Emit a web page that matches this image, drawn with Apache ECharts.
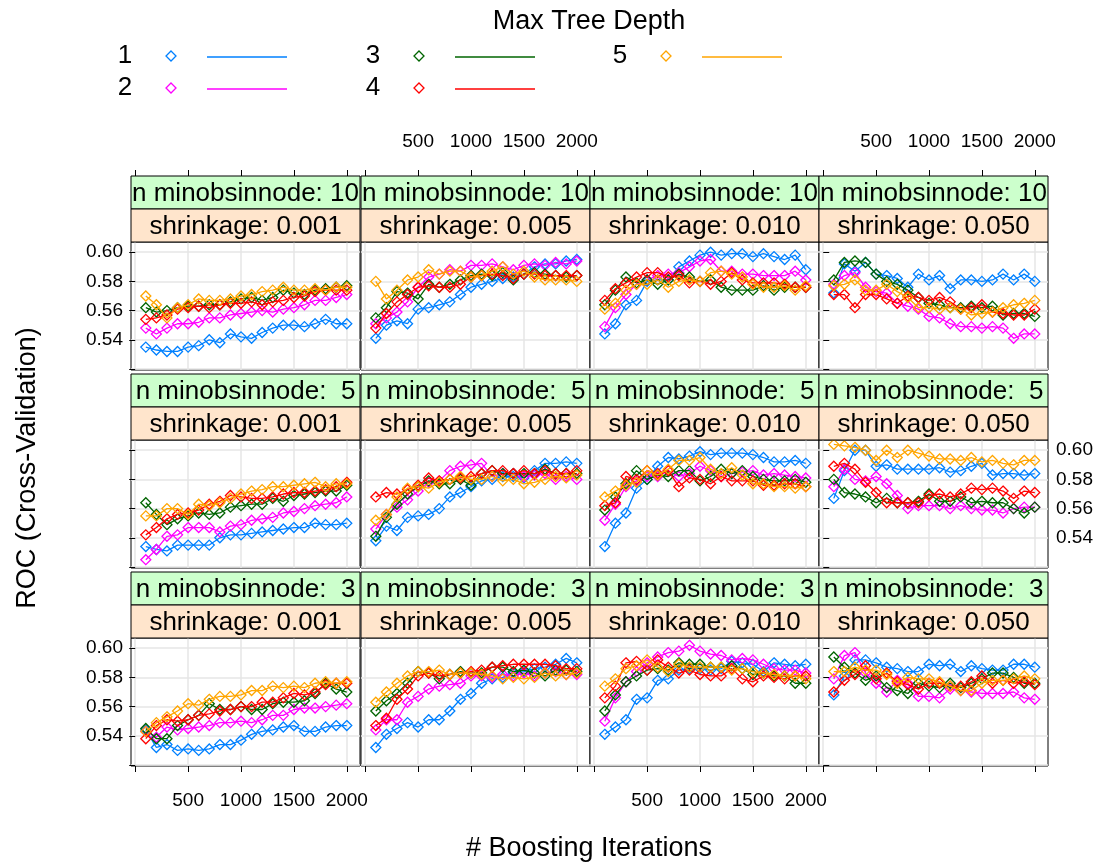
<!DOCTYPE html>
<html><head><meta charset="utf-8">
<script src="https://cdn.jsdelivr.net/npm/echarts@6/dist/echarts.min.js"></script>
<style>html,body{margin:0;padding:0;background:#fff}#c{width:1120px;height:865px}</style>
</head><body><div id="c"></div>
<script>
// ---------------- data ----------------
const iterations = [100,200,300,400,500,600,700,800,900,1000,1100,1200,1300,1400,1500,1600,1700,1800,1900,2000];
const depthLabels = ['1','2','3','4','5'];
const depthColors = ['#0080ff','#ff00ff','#006400','#ff0000','#ffa500'];
const shrinkageLabels = ['shrinkage: 0.001','shrinkage: 0.005','shrinkage: 0.010','shrinkage: 0.050'];
const minobsLabels = ['n minobsinnode: 10','n minobsinnode:  5','n minobsinnode:  3'];
const xTicks = [0,500,1000,1500,2000];
const xTickLabels = [500,1000,1500,2000];
const yTicks = [0.52,0.54,0.56,0.58,0.60];
const yTickLabels = [0.54,0.56,0.58,0.60];

// each panel: depth 1..5 ROC values at the iterations above
const roc_n10_s0001 = [
 [0.535,0.533,0.532,0.532,0.535,0.536,0.540,0.538,0.544,0.542,0.541,0.545,0.548,0.550,0.550,0.549,0.551,0.554,0.551,0.551],
 [0.548,0.544,0.548,0.551,0.551,0.552,0.555,0.555,0.557,0.558,0.559,0.560,0.559,0.561,0.562,0.564,0.567,0.567,0.569,0.571],
 [0.562,0.559,0.560,0.562,0.563,0.563,0.564,0.564,0.566,0.568,0.569,0.567,0.569,0.574,0.572,0.571,0.574,0.575,0.576,0.577],
 [0.554,0.555,0.557,0.561,0.562,0.563,0.562,0.564,0.565,0.565,0.566,0.564,0.566,0.567,0.569,0.570,0.573,0.574,0.574,0.574],
 [0.570,0.564,0.555,0.562,0.564,0.568,0.567,0.567,0.568,0.570,0.571,0.573,0.574,0.576,0.574,0.574,0.575,0.574,0.576,0.576]];
const roc_n10_s0005 = [
 [0.541,0.550,0.553,0.551,0.561,0.562,0.564,0.566,0.571,0.576,0.578,0.580,0.582,0.583,0.585,0.590,0.592,0.592,0.594,0.595],
 [0.551,0.555,0.559,0.566,0.576,0.583,0.585,0.588,0.587,0.591,0.591,0.592,0.590,0.588,0.591,0.592,0.591,0.593,0.592,0.594],
 [0.555,0.562,0.573,0.572,0.568,0.578,0.576,0.578,0.581,0.584,0.585,0.584,0.586,0.581,0.585,0.586,0.585,0.584,0.583,0.584],
 [0.548,0.558,0.566,0.571,0.576,0.577,0.576,0.576,0.578,0.583,0.584,0.585,0.584,0.582,0.585,0.585,0.584,0.584,0.584,0.584],
 [0.580,0.568,0.574,0.581,0.583,0.588,0.585,0.587,0.587,0.583,0.584,0.587,0.590,0.585,0.587,0.583,0.581,0.581,0.581,0.580]];
const roc_n10_s0010 = [
 [0.544,0.551,0.564,0.567,0.580,0.581,0.581,0.590,0.594,0.598,0.600,0.598,0.599,0.599,0.597,0.599,0.597,0.595,0.598,0.588],
 [0.549,0.562,0.571,0.578,0.581,0.584,0.585,0.586,0.590,0.594,0.595,0.587,0.587,0.585,0.585,0.584,0.584,0.584,0.587,0.581],
 [0.564,0.574,0.583,0.579,0.581,0.578,0.581,0.585,0.583,0.580,0.581,0.576,0.574,0.574,0.574,0.577,0.574,0.576,0.576,0.576],
 [0.567,0.575,0.579,0.583,0.586,0.586,0.583,0.584,0.579,0.580,0.578,0.580,0.586,0.581,0.579,0.579,0.579,0.578,0.576,0.576],
 [0.561,0.565,0.574,0.578,0.578,0.581,0.576,0.580,0.581,0.580,0.586,0.587,0.585,0.583,0.578,0.576,0.576,0.577,0.574,0.577]];
const roc_n10_s0050 = [
 [0.572,0.592,0.587,0.593,0.585,0.584,0.582,0.576,0.585,0.581,0.584,0.575,0.581,0.581,0.580,0.581,0.585,0.581,0.585,0.580],
 [0.578,0.584,0.586,0.576,0.573,0.572,0.565,0.563,0.561,0.556,0.555,0.551,0.549,0.549,0.548,0.549,0.548,0.541,0.544,0.544],
 [0.581,0.593,0.594,0.593,0.585,0.580,0.578,0.574,0.569,0.565,0.564,0.562,0.562,0.563,0.562,0.563,0.557,0.558,0.558,0.556],
 [0.571,0.571,0.562,0.571,0.571,0.568,0.565,0.570,0.569,0.567,0.569,0.566,0.561,0.562,0.564,0.559,0.558,0.557,0.557,0.561],
 [0.577,0.578,0.581,0.574,0.574,0.578,0.573,0.569,0.562,0.562,0.561,0.562,0.561,0.557,0.558,0.559,0.562,0.564,0.565,0.567]];
const roc_n5_s0001 = [
 [0.534,0.532,0.531,0.535,0.535,0.535,0.535,0.540,0.542,0.542,0.543,0.544,0.545,0.546,0.547,0.547,0.550,0.549,0.549,0.550],
 [0.525,0.532,0.541,0.542,0.547,0.547,0.547,0.544,0.548,0.549,0.552,0.553,0.554,0.557,0.558,0.560,0.562,0.563,0.564,0.568],
 [0.564,0.556,0.549,0.553,0.555,0.557,0.556,0.557,0.561,0.562,0.563,0.563,0.567,0.565,0.569,0.570,0.571,0.572,0.572,0.576],
 [0.542,0.547,0.553,0.556,0.557,0.559,0.563,0.565,0.569,0.568,0.567,0.567,0.568,0.570,0.571,0.571,0.572,0.573,0.575,0.578],
 [0.555,0.555,0.560,0.560,0.556,0.563,0.562,0.564,0.567,0.570,0.572,0.573,0.575,0.575,0.576,0.577,0.578,0.575,0.577,0.577]];
const roc_n5_s0005 = [
 [0.538,0.548,0.545,0.554,0.555,0.556,0.560,0.568,0.571,0.575,0.579,0.580,0.582,0.582,0.581,0.586,0.591,0.591,0.592,0.591],
 [0.546,0.556,0.561,0.566,0.572,0.578,0.579,0.586,0.589,0.590,0.591,0.582,0.584,0.584,0.582,0.583,0.584,0.580,0.582,0.580],
 [0.541,0.554,0.563,0.570,0.575,0.579,0.577,0.577,0.580,0.576,0.584,0.586,0.584,0.584,0.584,0.584,0.587,0.584,0.584,0.584],
 [0.568,0.571,0.570,0.573,0.576,0.581,0.579,0.580,0.581,0.582,0.584,0.586,0.586,0.584,0.586,0.584,0.586,0.584,0.584,0.586],
 [0.552,0.556,0.568,0.574,0.575,0.574,0.578,0.580,0.582,0.580,0.580,0.582,0.579,0.580,0.577,0.578,0.580,0.582,0.581,0.583]];
const roc_n5_s0010 = [
 [0.534,0.550,0.557,0.574,0.580,0.589,0.595,0.594,0.596,0.599,0.597,0.598,0.598,0.598,0.597,0.595,0.592,0.592,0.593,0.591],
 [0.552,0.563,0.575,0.579,0.582,0.582,0.586,0.582,0.584,0.589,0.586,0.582,0.584,0.585,0.586,0.583,0.584,0.583,0.582,0.581],
 [0.559,0.568,0.577,0.586,0.580,0.583,0.582,0.586,0.586,0.579,0.582,0.587,0.584,0.586,0.582,0.580,0.579,0.579,0.580,0.578],
 [0.562,0.564,0.582,0.580,0.586,0.584,0.586,0.575,0.581,0.580,0.577,0.582,0.579,0.579,0.579,0.576,0.576,0.577,0.577,0.575],
 [0.568,0.572,0.576,0.578,0.586,0.583,0.587,0.593,0.593,0.595,0.587,0.584,0.588,0.583,0.577,0.577,0.575,0.575,0.574,0.575]];
const roc_n5_s0050 = [
 [0.567,0.586,0.600,0.600,0.589,0.590,0.587,0.587,0.587,0.587,0.588,0.585,0.586,0.589,0.591,0.583,0.584,0.584,0.583,0.584],
 [0.575,0.587,0.580,0.579,0.582,0.577,0.569,0.560,0.562,0.562,0.562,0.560,0.562,0.560,0.559,0.559,0.557,0.560,0.561,0.561],
 [0.580,0.571,0.570,0.568,0.564,0.567,0.564,0.564,0.565,0.570,0.565,0.565,0.568,0.564,0.565,0.564,0.564,0.560,0.557,0.561],
 [0.589,0.591,0.587,0.578,0.571,0.564,0.564,0.564,0.564,0.569,0.570,0.568,0.570,0.574,0.573,0.574,0.572,0.567,0.572,0.571],
 [0.604,0.603,0.602,0.600,0.593,0.600,0.595,0.600,0.598,0.596,0.594,0.594,0.593,0.595,0.592,0.593,0.591,0.590,0.593,0.593]];
const roc_n3_s0001 = [
 [0.544,0.532,0.534,0.530,0.531,0.530,0.531,0.534,0.534,0.537,0.541,0.543,0.544,0.546,0.547,0.543,0.543,0.546,0.547,0.547],
 [0.543,0.539,0.546,0.544,0.545,0.546,0.547,0.549,0.549,0.550,0.549,0.551,0.554,0.554,0.558,0.559,0.559,0.560,0.561,0.562],
 [0.545,0.538,0.538,0.547,0.551,0.554,0.562,0.558,0.558,0.560,0.558,0.558,0.562,0.563,0.563,0.564,0.569,0.576,0.572,0.570],
 [0.538,0.547,0.551,0.550,0.551,0.554,0.555,0.557,0.558,0.560,0.560,0.563,0.563,0.566,0.569,0.568,0.570,0.575,0.576,0.576],
 [0.543,0.549,0.553,0.557,0.562,0.561,0.565,0.567,0.567,0.568,0.571,0.571,0.574,0.573,0.574,0.573,0.576,0.577,0.576,0.577]];
const roc_n3_s0005 = [
 [0.532,0.541,0.545,0.549,0.546,0.551,0.551,0.557,0.565,0.569,0.576,0.579,0.580,0.583,0.584,0.586,0.587,0.589,0.593,0.590],
 [0.544,0.551,0.551,0.563,0.567,0.572,0.574,0.575,0.576,0.581,0.581,0.580,0.582,0.581,0.583,0.581,0.583,0.584,0.582,0.582],
 [0.557,0.564,0.569,0.576,0.584,0.583,0.579,0.582,0.584,0.583,0.583,0.587,0.587,0.584,0.585,0.583,0.581,0.585,0.585,0.584],
 [0.547,0.552,0.565,0.572,0.581,0.583,0.581,0.582,0.583,0.584,0.585,0.587,0.588,0.589,0.589,0.589,0.589,0.588,0.586,0.586],
 [0.563,0.570,0.576,0.581,0.584,0.584,0.585,0.582,0.583,0.583,0.582,0.581,0.579,0.580,0.579,0.580,0.583,0.581,0.582,0.583]];
const roc_n3_s0010 = [
 [0.541,0.546,0.551,0.565,0.566,0.578,0.579,0.585,0.586,0.586,0.585,0.586,0.591,0.590,0.589,0.584,0.590,0.589,0.588,0.589],
 [0.550,0.566,0.577,0.584,0.590,0.594,0.597,0.598,0.602,0.598,0.596,0.595,0.592,0.593,0.592,0.589,0.586,0.585,0.585,0.583],
 [0.557,0.568,0.577,0.581,0.585,0.586,0.585,0.590,0.589,0.589,0.587,0.587,0.588,0.586,0.582,0.583,0.581,0.581,0.576,0.576],
 [0.566,0.574,0.590,0.591,0.585,0.592,0.587,0.583,0.585,0.582,0.581,0.581,0.586,0.579,0.577,0.581,0.580,0.579,0.581,0.581],
 [0.574,0.579,0.586,0.588,0.592,0.587,0.584,0.589,0.587,0.587,0.587,0.587,0.585,0.586,0.584,0.583,0.582,0.581,0.581,0.579]];
const roc_n3_s0050 = [
 [0.568,0.581,0.592,0.592,0.590,0.587,0.586,0.584,0.584,0.589,0.588,0.589,0.584,0.588,0.586,0.585,0.585,0.589,0.589,0.587],
 [0.579,0.595,0.597,0.583,0.576,0.570,0.578,0.576,0.567,0.567,0.566,0.572,0.571,0.570,0.569,0.569,0.569,0.570,0.566,0.565],
 [0.594,0.587,0.583,0.578,0.581,0.573,0.571,0.569,0.576,0.574,0.573,0.576,0.573,0.576,0.579,0.583,0.583,0.580,0.576,0.576],
 [0.570,0.578,0.582,0.588,0.579,0.583,0.577,0.575,0.572,0.576,0.576,0.574,0.574,0.577,0.581,0.576,0.578,0.576,0.577,0.575],
 [0.584,0.584,0.587,0.585,0.585,0.582,0.576,0.580,0.579,0.579,0.577,0.574,0.571,0.571,0.576,0.578,0.578,0.579,0.581,0.579]];

const panelRows = [
 [roc_n10_s0001, roc_n10_s0005, roc_n10_s0010, roc_n10_s0050],
 [roc_n5_s0001, roc_n5_s0005, roc_n5_s0010, roc_n5_s0050],
 [roc_n3_s0001, roc_n3_s0005, roc_n3_s0010, roc_n3_s0050]];

// ---------------- layout ----------------
const colLeft = [131, 361, 590, 819];
const panelW = 229;
const plotTop = [242, 440, 638];
const plotH = 128;
const stripH = 33;
const FONT = 'Liberation Sans, Arial, sans-serif';
const TICKFONT = 19;

const grids = [], xAxes = [], yAxes = [], series = [], graphics = [];

for (let r = 0; r < 3; r++) {
  for (let c = 0; c < 4; c++) {
    const p = r * 4 + c;
    grids.push({left: colLeft[c], top: plotTop[r], width: panelW, height: plotH,
      show: true, borderColor: '#000', borderWidth: 1, backgroundColor: '#fff'});
    xAxes.push({
      gridIndex: p, type: 'value', min: -40, max: 2125,
      position: r === 0 ? 'top' : 'bottom', offset: r === 0 ? 2 * stripH : 0,
      axisLine: {show: false},
      axisTick: {show: r !== 1, inside: false, length: 6, lineStyle: {color: '#000', width: 1}, customValues: xTicks},
      axisLabel: {show: (r === 0 && c % 2 === 1) || (r === 2 && c % 2 === 0), customValues: xTickLabels,
        formatter: v => String(Math.round(v)),
        fontSize: TICKFONT, color: '#000', margin: 25, fontFamily: FONT},
      splitLine: {show: true, lineStyle: {color: '#e6e6e6', width: 1.5}}
    });
    yAxes.push({
      gridIndex: p, type: 'value', min: 0.5193, max: 0.607,
      position: c === 3 ? 'right' : 'left',
      axisLine: {show: false},
      axisTick: {show: c === 0 || c === 3, inside: false, length: 6, lineStyle: {color: '#000', width: 1}, customValues: yTicks},
      axisLabel: {show: (c === 0 && r !== 1) || (c === 3 && r === 1), customValues: yTickLabels,
        formatter: v => Number(v).toFixed(2), fontSize: TICKFONT, color: '#000', margin: 8, fontFamily: FONT},
      splitLine: {show: true, lineStyle: {color: '#e6e6e6', width: 1.5}}
    });
    const vals = panelRows[r][c];
    for (let d = 0; d < 5; d++) {
      series.push({
        type: 'line', name: depthLabels[d], xAxisIndex: p, yAxisIndex: p,
        data: iterations.map((x, i) => [x, vals[d][i]]),
        symbol: 'diamond', symbolSize: 10, showSymbol: true, showAllSymbol: true,
        lineStyle: {color: depthColors[d], width: 1.3},
        itemStyle: {color: 'rgba(255,255,255,0)', borderColor: depthColors[d], borderWidth: 1.3},
        emphasis: {disabled: true}, silent: true, animation: false, z: 3 + d
      });
    }
    // strips
    const x0 = colLeft[c], y0 = plotTop[r] - 2 * stripH;
    graphics.push({type: 'rect', shape: {x: x0, y: y0, width: panelW, height: stripH},
      style: {fill: '#ccffcc', stroke: '#000', lineWidth: 1}, z: 10});
    graphics.push({type: 'rect', shape: {x: x0, y: y0 + stripH, width: panelW, height: stripH},
      style: {fill: '#ffe5cc', stroke: '#000', lineWidth: 1}, z: 10});
    graphics.push({type: 'text', x: x0 + panelW / 2, y: y0 + stripH / 2 + 1, z: 11,
      style: {text: minobsLabels[r], font: '26px ' + FONT, fill: '#000', align: 'center', verticalAlign: 'middle'}});
    graphics.push({type: 'text', x: x0 + panelW / 2, y: y0 + stripH * 1.5 + 1, z: 11,
      style: {text: shrinkageLabels[c], font: '26px ' + FONT, fill: '#000', align: 'center', verticalAlign: 'middle'}});
  }
}

// axis titles
graphics.push({type: 'text', x: 589, y: 849, z: 11,
  style: {text: '# Boosting Iterations', font: '27px ' + FONT, fill: '#000', align: 'center', verticalAlign: 'middle'}});
graphics.push({type: 'text', x: 28, y: 468, rotation: Math.PI / 2, z: 11,
  style: {text: 'ROC (Cross-Validation)', font: '27px ' + FONT, fill: '#000', align: 'center', verticalAlign: 'middle'}});

// legend
graphics.push({type: 'text', x: 589, y: 22, z: 11,
  style: {text: 'Max Tree Depth', font: '27px ' + FONT, fill: '#000', align: 'center', verticalAlign: 'middle'}});
const legendPos = [[125, 56], [125, 88], [373, 56], [373, 88], [620, 56]];
for (let d = 0; d < 5; d++) {
  const [lx, ly] = legendPos[d];
  graphics.push({type: 'text', x: lx, y: ly, z: 11,
    style: {text: depthLabels[d], font: '26px ' + FONT, fill: '#000', align: 'center', verticalAlign: 'middle'}});
  graphics.push({type: 'polygon', z: 11,
    shape: {points: [[lx + 46, ly - 5], [lx + 51, ly], [lx + 46, ly + 5], [lx + 41, ly]]},
    style: {fill: 'none', stroke: depthColors[d], lineWidth: 1.3}});
  graphics.push({type: 'line', z: 11,
    shape: {x1: lx + 82, y1: ly + 1, x2: lx + 162, y2: ly + 1},
    style: {stroke: depthColors[d], lineWidth: 1.3}});
}

const chart = echarts.init(document.getElementById('c'), null, {renderer: 'canvas'});
chart.setOption({
  animation: false,
  backgroundColor: '#fff',
  grid: grids, xAxis: xAxes, yAxis: yAxes, series: series, graphic: graphics
});
</script></body></html>
